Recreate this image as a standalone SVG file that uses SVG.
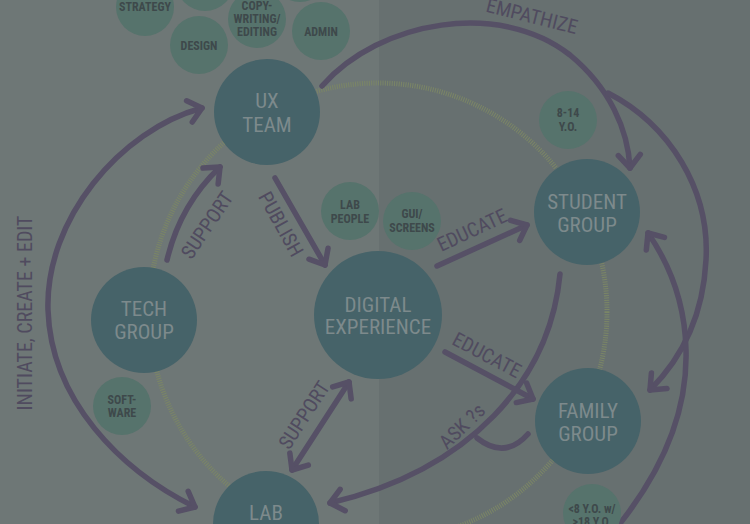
<svg xmlns="http://www.w3.org/2000/svg" width="750" height="524" viewBox="0 0 750 524">
<defs>
<style>
.big{fill:#466369}
.small{fill:#56736c}
.bt{font-family:'Liberation Sans Narrow','Roboto Condensed','DejaVu Sans Condensed','Liberation Sans',sans-serif;font-size:21px;fill:#7d8a8c;text-anchor:middle}
.st{font-family:'Liberation Sans Narrow','Roboto Condensed','DejaVu Sans Condensed','Liberation Sans',sans-serif;font-size:12px;font-weight:bold;fill:#3e494b;text-anchor:middle}
.lbl{font-family:'Liberation Sans Narrow','Roboto Condensed','DejaVu Sans Condensed','Liberation Sans',sans-serif;font-size:20px;fill:#504b5f;text-anchor:middle}
.c{fill:none;stroke:#565066;stroke-width:5.5;stroke-linecap:round;stroke-linejoin:round}
.end{marker-end:url(#ah)}
.both{marker-end:url(#ah);marker-start:url(#ahs)}
</style>
<marker id="ah" markerUnits="userSpaceOnUse" viewBox="-20 -16 24 32" refX="0" refY="0" markerWidth="24" markerHeight="32" orient="auto" overflow="visible">
<path d="M-13,-11 L0,0 L-13,11" fill="none" stroke="#565066" stroke-width="5.5" stroke-linecap="round" stroke-linejoin="round"/>
</marker>
<marker id="ahs" markerUnits="userSpaceOnUse" viewBox="-20 -16 24 32" refX="0" refY="0" markerWidth="24" markerHeight="32" orient="auto-start-reverse" overflow="visible">
<path d="M-13,-11 L0,0 L-13,11" fill="none" stroke="#565066" stroke-width="5.5" stroke-linecap="round" stroke-linejoin="round"/>
</marker>
</defs>
<rect x="0" y="0" width="379" height="524" fill="#6e7776"/>
<rect x="379" y="0" width="371" height="524" fill="#677070"/>
<circle cx="378" cy="312" r="229" fill="none" stroke="#7b8666" stroke-width="5" stroke-dasharray="1 1.3"/>

<g id="connectors">
<path class="c end" d="M322,86 C380,20 500,0 570,55 C610,88 628,130 630,168"/>
<path class="c end" d="M608,93 C670,125 710,190 706,260 C703,320 680,360 650,390"/>
<path class="c end" d="M618,526 C655,480 688,420 686,350 C685,300 668,262 648,233"/>
<path class="c end" d="M560,274 C550,380 470,470 330,503"/>
<path class="c" d="M477,438 Q505,460 528,434"/>
<path class="c end" d="M437,266 L527,225"/>
<path class="c end" d="M445,352 L533,399"/>
<path class="c end" d="M275,178 L325,265"/>
<path class="c end" d="M167,260 Q180,205 220,167"/>
<path class="c both" d="M292,470 L349,382"/>
<path class="c both" d="M202,108 C120,130 45,220 48,310 C51,400 120,470 195,507"/>
<text class="lbl" transform="translate(532,16) rotate(14)" y="7">EMPATHIZE</text>
<text class="lbl" transform="translate(32,313) rotate(-90)" y="0">INITIATE, CREATE + EDIT</text>
<text class="lbl" transform="translate(281,224) rotate(61)" y="7">PUBLISH</text>
<text class="lbl" transform="translate(207,225) rotate(-56)" y="7">SUPPORT</text>
<text class="lbl" transform="translate(304,415) rotate(-57)" y="7">SUPPORT</text>
<text class="lbl" transform="translate(472,230) rotate(-25)" y="7">EDUCATE</text>
<text class="lbl" transform="translate(487,355) rotate(28)" y="7">EDUCATE</text>
<text class="lbl" transform="translate(462,426) rotate(-44)" y="7">ASK ?s</text>
</g>

<g id="strategy"><circle class="small" cx="145" cy="7" r="29"/><text class="st" x="145" y="11">STRATEGY</text></g>
<g id="top-a"><circle class="small" cx="205" cy="-18" r="29"/></g>
<g id="top-b"><circle class="small" cx="300" cy="-27" r="29"/></g>
<g id="design"><circle class="small" cx="199" cy="45" r="29"/><text class="st" x="199" y="50">DESIGN</text></g>
<g id="copywriting"><circle class="small" cx="257" cy="19" r="29"/><text class="st" x="257" y="10">COPY-</text><text class="st" x="257" y="23">WRITING/</text><text class="st" x="257" y="36">EDITING</text></g>
<g id="admin"><circle class="small" cx="321" cy="31" r="29"/><text class="st" x="321" y="36">ADMIN</text></g>
<g id="lab-people"><circle class="small" cx="350" cy="211" r="29"/><text class="st" x="350" y="209">LAB</text><text class="st" x="350" y="223">PEOPLE</text></g>
<g id="gui-screens"><circle class="small" cx="412" cy="221" r="29"/><text class="st" x="412" y="218">GUI/</text><text class="st" x="412" y="232">SCREENS</text></g>
<g id="age-8-14"><circle class="small" cx="568" cy="120" r="29"/><text class="st" x="568" y="117">8-14</text><text class="st" x="568" y="131">Y.O.</text></g>
<g id="software"><circle class="small" cx="122" cy="406" r="29"/><text class="st" x="122" y="404">SOFT-</text><text class="st" x="122" y="417">WARE</text></g>
<g id="age-family"><circle class="small" cx="592" cy="513" r="29"/><text class="st" x="592" y="513">&lt;8 Y.O. w/</text><text class="st" x="592" y="526">&gt;18 Y.O.</text></g>

<g id="ux-team"><circle class="big" cx="267" cy="112" r="53"/><text class="bt" x="267" y="108">UX</text><text class="bt" x="267" y="132">TEAM</text></g>
<g id="tech-group"><circle class="big" cx="144" cy="320" r="53"/><text class="bt" x="144" y="316">TECH</text><text class="bt" x="144" y="339">GROUP</text></g>
<g id="digital-experience"><circle class="big" cx="378" cy="315" r="64"/><text class="bt" x="378" y="312">DIGITAL</text><text class="bt" x="378" y="334">EXPERIENCE</text></g>
<g id="student-group"><circle class="big" cx="587" cy="212" r="53"/><text class="bt" x="587" y="209">STUDENT</text><text class="bt" x="587" y="232">GROUP</text></g>
<g id="family-group"><circle class="big" cx="588" cy="421" r="53"/><text class="bt" x="588" y="418">FAMILY</text><text class="bt" x="588" y="441">GROUP</text></g>
<g id="lab"><circle class="big" cx="266" cy="524" r="53"/><text class="bt" x="266" y="520">LAB</text></g>
</svg>
